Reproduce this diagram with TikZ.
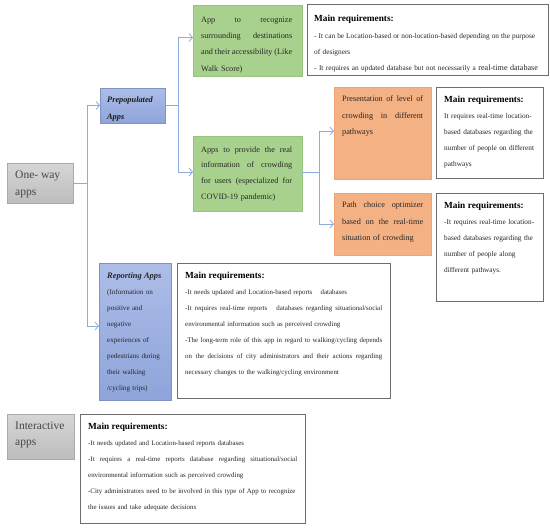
\documentclass[tikz,border=0pt]{standalone}
\usepackage{fontspec}
\setmainfont{Liberation Serif}
\usetikzlibrary{arrows.meta}
\definecolor{connc}{HTML}{8FAADC}
\definecolor{grayA}{HTML}{D6D6D6}
\definecolor{grayB}{HTML}{BDBDBD}
\definecolor{blueA}{HTML}{ADBDE8}
\definecolor{blueB}{HTML}{8EA4DA}
\definecolor{greenF}{HTML}{A9D18E}
\definecolor{greenD}{HTML}{98C47E}
\definecolor{orangeF}{HTML}{F4B183}
\definecolor{orangeD}{HTML}{F0A474}
\definecolor{reqD}{HTML}{6E6E6E}
\definecolor{txtc}{HTML}{262626}
\newcommand\jl[2]{\leavevmode\hbox to #1{\spaceskip=0.25em plus 3em minus 0.05em\xspaceskip=0pt #2}}
\tikzset{
  boxbase/.style={anchor=north west, inner sep=0pt, outer sep=0pt},
  graybox/.style={boxbase, top color=grayA, bottom color=grayB, draw=grayB!90!black, line width=0.6pt},
  bluebox/.style={boxbase, top color=blueA, bottom color=blueB, draw=blueB!90!black, line width=0.6pt},
  greenbox/.style={boxbase, fill=greenF, draw=greenD, line width=0.6pt},
  orangebox/.style={boxbase, fill=orangeF, draw=orangeD, line width=0.6pt},
  reqbox/.style={boxbase, fill=white, draw=reqD, line width=0.9pt},
  txt/.style={inner sep=0pt, anchor=north west, align=left, text=txtc},
  bigtxt/.style={inner sep=0pt, anchor=north west, align=left, text=black!72},
  conn/.style={draw=connc, line width=0.9pt},
  arr/.style={conn, -{Straight Barb[length=3.5pt,width=8pt,line width=0.8pt]}},
}
\newcommand\hd{{\fontsize{9.3}{16}\selectfont\bfseries\color{black} Main requirements:}}
\begin{document}
\begin{tikzpicture}[x=1pt,y=-1pt]
\useasboundingbox (0,0) rectangle (550,530);

% boxes
\node[graybox, minimum width=66pt, minimum height=40pt] (ow) at (7,163) {};
\node[bluebox, minimum width=65pt, minimum height=35pt] (pre) at (100,88) {};
\node[greenbox, minimum width=109pt, minimum height=71pt] (g1) at (193,5) {};
\node[greenbox, minimum width=109pt, minimum height=75pt] (g2) at (193,136) {};
\node[reqbox, minimum width=241pt, minimum height=71pt] (m1) at (307,4) {};
\node[orangebox, minimum width=97pt, minimum height=92pt] (o1) at (334,87) {};
\node[reqbox, minimum width=107pt, minimum height=91pt] (m2) at (436,87) {};
\node[orangebox, minimum width=97pt, minimum height=62pt] (o2) at (334,193) {};
\node[reqbox, minimum width=107pt, minimum height=108pt] (m3) at (436,193) {};
\node[bluebox, minimum width=72pt, minimum height=137pt] (rep) at (99,263) {};
\node[reqbox, minimum width=213pt, minimum height=135pt] (mr) at (177,263) {};
\node[graybox, minimum width=67pt, minimum height=45pt] (ia) at (7,414) {};
\node[reqbox, minimum width=225pt, minimum height=109pt] (mi) at (80,414) {};

% texts
\node[bigtxt, font=\fontsize{11.5}{16.5}\selectfont] (owt) at (15,171) {One- way\\apps};
\node[bigtxt, font=\fontsize{11.5}{16}\selectfont] (iat) at (15,421.8) {Interactive\\apps};
\node[txt, text=black!90, font=\fontsize{8.3}{17}\selectfont\bfseries\itshape] (pret) at (107,97) {Prepopulated\\Apps};
\node[txt, text width=91pt, font=\fontsize{8.2}{16.3}\selectfont] (g1t) at (201,16.5) {\jl{91pt}{App to recognize}\\\jl{91pt}{surrounding destinations}\\\jl{91pt}{and their accessibility (Like}\\Walk Score)};
\node[txt, text width=91pt, font=\fontsize{8.2}{15.7}\selectfont] (g2t) at (201,146.3) {\jl{91pt}{Apps to provide the real}\\\jl{91pt}{information of crowding}\\\jl{91pt}{for users (especialized for}\\COVID-19 pandemic)};
\node[txt, text width=235pt, font=\fontsize{7.3}{16.3}\selectfont] (m1t) at (314,15.3) {\hd\\\jl{221pt}{- It can be Location-based or non-location-based depending on the purpose}\\of designers\\- It requires an updated database but not necessarily a {\fontsize{8.1}{16.3}\selectfont real-time database}};
\node[txt, text width=81pt, font=\fontsize{8.2}{16.5}\selectfont] (o1t) at (342,96) {\jl{81pt}{Presentation of level of}\\\jl{81pt}{crowding in different}\\pathways};
\node[txt, text width=96pt, font=\fontsize{7.3}{16}\selectfont] (m2t) at (444,96.3) {\hd\\It requires real-time location-\\based databases regarding the\\number of people on different\\pathways};
\node[txt, text width=81pt, font=\fontsize{8.2}{16.5}\selectfont] (o2t) at (342,202) {\jl{81pt}{Path choice optimizer}\\\jl{81pt}{based on the real-time}\\situation of crowding};
\node[txt, text width=96pt, font=\fontsize{7.3}{16}\selectfont] (m3t) at (444,202.3) {\hd\\-It requires real-time location-\\based databases regarding the\\number of people along\\different pathways.};
\node[txt, text width=68pt, font=\fontsize{7.1}{16}\selectfont] (rept) at (107,272.7) {{\fontsize{8.4}{16}\selectfont\bfseries\itshape Reporting Apps}\\(Information on\\positive and\\negative\\experiences of\\pedestrians during\\their walking\\/cycling trips)};
\node[txt, text width=200pt, font=\fontsize{6.9}{16}\selectfont] (mrt) at (185,272.3) {\hd\\-It needs updated and Location-based reports\hspace{6pt} databases\\\jl{197pt}{-It requires real-time reports\hspace{6pt} databases regarding situational/social}\\environmental information such as perceived crowding\\\jl{197pt}{-The long-term role of this app in regard to walking/cycling depends}\\\jl{197pt}{on the decisions of city administrators and their actions regarding}\\necessary changes to the walking/cycling environment};
\node[txt, text width=210pt, font=\fontsize{6.9}{16}\selectfont] (mit) at (88,423.3) {\hd\\-It needs updated and Location-based reports databases\\\jl{209pt}{-It requires a real-time reports database regarding situational/social}\\environmental information such as perceived crowding\\-City administrators need to be involved in this type of App to recognize\\the issues and take adequate decisions};

% connectors
\coordinate (t1) at (87,183);
\coordinate (t2) at (178,105.5);
\coordinate (t3) at (319,172);
\draw[conn] (ow.east) -- (t1);
\draw[arr] (t1) |- (pre.west);
\draw[arr] (t1) |- ([yshift=5.5pt]rep.west);
\draw[conn] (pre.east) -- (t2);
\draw[arr] (t2) |- ([yshift=3pt]g1.west);
\draw[arr] (t2) |- ([yshift=1.5pt]g2.west);
\draw[conn] ([yshift=1.5pt]g2.east) -- (t3);
\draw[arr] (t3) |- ([yshift=2pt]o1.west);
\draw[arr] (t3) |- (o2.west);
\end{tikzpicture}
\end{document}
